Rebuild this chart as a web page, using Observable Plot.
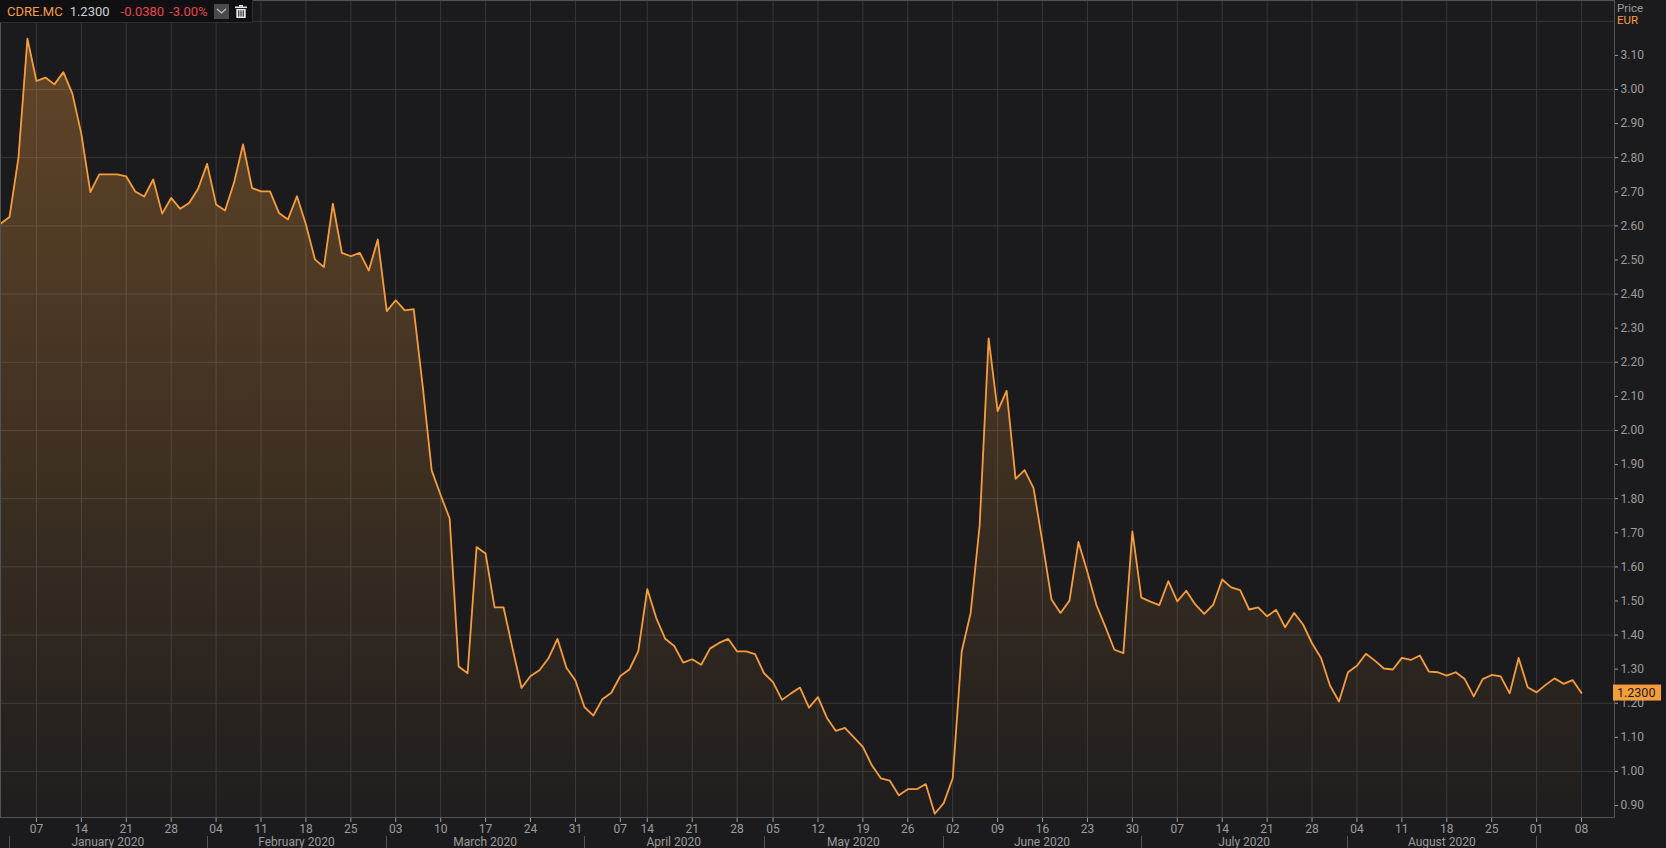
<!DOCTYPE html>
<html>
<head>
<meta charset="utf-8">
<script src="https://cdn.jsdelivr.net/npm/d3@7"></script>
<script src="https://cdn.jsdelivr.net/npm/@observablehq/plot@0.6"></script>
<style>
  html, body { margin: 0; padding: 0; background: #1b1b1d; overflow: hidden; }
  #wrap { position: relative; width: 1666px; height: 848px; }
  #chart svg { display: block; }
  #legend {
    position: absolute; left: 0; top: 0; width: 252px; height: 22px;
    background: #101012; border-right: 1px solid #2f2f31; border-bottom: 1px solid #2f2f31;
    font: 13px Roboto, "Open Sans", sans-serif; display: flex; align-items: center; white-space: pre;
  }
  #legend .btn { width: 15px; height: 15px; background: #4a4a4c; margin-left: 6px; display: flex; align-items: center; justify-content: center; }
  #legend .trash { margin-left: 6px; display: flex; align-items: center; }
</style>
</head>
<body>
<div id="wrap">
  <div id="chart"></div>
  <div id="legend"></div>
</div>
<script>
// ---------------- data ----------------
const symbol = "CDRE.MC";
const currency = "EUR";
const lastCloseLabel = "1.2300";
const changeLabel = "-0.0380";
const changePctLabel = "-3.00%";

// trading calendar (Madrid exchange)
const firstDay = "2019-12-31";
const lastDay = "2020-09-08";
const holidays = ["2020-01-01", "2020-04-10", "2020-04-13", "2020-05-01"];

// daily closes, one per trading day
const closes = [
  2.606, 2.626, 2.800, 3.149, 3.025, 3.035, 3.015, 3.051, 2.988, 2.870,
  2.699, 2.751, 2.751, 2.751, 2.745, 2.701, 2.686, 2.736, 2.636, 2.682,
  2.650, 2.667, 2.709, 2.782, 2.663, 2.645, 2.727, 2.839, 2.711, 2.701,
  2.701, 2.638, 2.619, 2.687, 2.604, 2.502, 2.479, 2.665, 2.521, 2.511,
  2.521, 2.469, 2.560, 2.350, 2.382, 2.352, 2.356, 2.130, 1.883, 1.810,
  1.742, 1.308, 1.288, 1.658, 1.639, 1.481, 1.481, 1.361, 1.245, 1.280,
  1.297, 1.332, 1.389, 1.304, 1.267, 1.189, 1.164, 1.212, 1.231, 1.280,
  1.299, 1.353, 1.535, 1.450, 1.389, 1.368, 1.319, 1.329, 1.313, 1.361,
  1.377, 1.389, 1.352, 1.352, 1.344, 1.288, 1.262, 1.210, 1.229, 1.246,
  1.187, 1.218, 1.157, 1.119, 1.128, 1.100, 1.072, 1.018, 0.980, 0.973,
  0.930, 0.948, 0.948, 0.963, 0.876, 0.907, 0.980, 1.352, 1.465, 1.722,
  2.270, 2.057, 2.116, 1.858, 1.884, 1.831, 1.671, 1.504, 1.465, 1.501,
  1.673, 1.584, 1.488, 1.424, 1.357, 1.347, 1.704, 1.510, 1.498, 1.488,
  1.558, 1.499, 1.530, 1.490, 1.462, 1.489, 1.563, 1.540, 1.532, 1.475,
  1.481, 1.455, 1.474, 1.423, 1.465, 1.431, 1.376, 1.333, 1.252, 1.205,
  1.291, 1.310, 1.345, 1.325, 1.302, 1.299, 1.333, 1.327, 1.340, 1.293,
  1.291, 1.281, 1.291, 1.271, 1.220, 1.271, 1.283, 1.279, 1.229, 1.333,
  1.247, 1.232, 1.254, 1.273, 1.257, 1.268, 1.230
];

// axis ticks
const xTickDates = [
  "2020-01-07","2020-01-14","2020-01-21","2020-01-28",
  "2020-02-04","2020-02-11","2020-02-18","2020-02-25",
  "2020-03-03","2020-03-10","2020-03-17","2020-03-24","2020-03-31",
  "2020-04-07","2020-04-14","2020-04-21","2020-04-28",
  "2020-05-05","2020-05-12","2020-05-19","2020-05-26",
  "2020-06-02","2020-06-09","2020-06-16","2020-06-23","2020-06-30",
  "2020-07-07","2020-07-14","2020-07-21","2020-07-28",
  "2020-08-04","2020-08-11","2020-08-18","2020-08-25",
  "2020-09-01","2020-09-08"
];
const monthStarts = ["2020-01","2020-02","2020-03","2020-04","2020-05","2020-06","2020-07","2020-08","2020-09"];
const monthLabels = ["January 2020","February 2020","March 2020","April 2020","May 2020","June 2020","July 2020","August 2020"];
const yTicks = [0.9,1.0,1.1,1.2,1.3,1.4,1.5,1.6,1.7,1.8,1.9,2.0,2.1,2.2,2.3,2.4,2.5,2.6,2.7,2.8,2.9,3.0,3.1];
const yGrid = [1.0,1.2,1.4,1.6,1.8,2.0,2.2,2.4,2.6,2.8,3.0,3.2];
const yDomain = [0.865, 3.261];
const xDomainEnd = 179.67; // trading-day index at right edge of plot

// ---------------- calendar ----------------
const tradingDays = [];
for (let d = new Date(firstDay + "T00:00:00Z"); d <= new Date(lastDay + "T00:00:00Z"); d = new Date(d.getTime() + 86400000)) {
  const iso = d.toISOString().slice(0, 10);
  const wd = d.getUTCDay();
  if (wd === 0 || wd === 6 || holidays.includes(iso)) continue;
  tradingDays.push(iso);
}
const xTickIdx = xTickDates.map(s => tradingDays.indexOf(s));
const tickLabelOf = new Map(xTickIdx.map((i, k) => [i, xTickDates[k].slice(8, 10)]));
const monthStartIdx = monthStarts.map(m => tradingDays.findIndex(s => s.startsWith(m)));

const orange = "#f59d3d";
const W = 1666, H = 848, mR = 52, mB = 31;

const chart = Plot.plot({
  width: W, height: H,
  marginLeft: 0, marginRight: mR, marginTop: 0, marginBottom: mB,
  style: { background: "#1b1b1d", color: "#9c9c9e", fontFamily: "Roboto, sans-serif", fontSize: "12px" },
  x: { domain: [0, xDomainEnd], ticks: xTickIdx, tickFormat: i => tickLabelOf.get(i), tickSize: 5, tickPadding: 2, label: null },
  y: { domain: yDomain, axis: "right", ticks: yTicks, tickFormat: d3.format(".2f"), tickSize: 3, tickPadding: 3, label: null },
  marks: [
    Plot.ruleY(yGrid, { stroke: "#38383b", strokeWidth: 1 }),
    Plot.ruleX(xTickIdx, { stroke: "#38383b", strokeWidth: 1 }),
    Plot.areaY(closes, { x: (d, i) => i, y1: yDomain[0], y2: d => d, fill: orange, fillOpacity: 0.2 }),
    Plot.lineY(closes, { x: (d, i) => i, y: d => d, stroke: orange, strokeWidth: 1.8 }),
    Plot.frame({ stroke: "#535355" })
  ]
});
document.getElementById("chart").appendChild(chart);

// ---------------- extras drawn with the plot's scales ----------------
const svg = d3.select(chart);
const xs = chart.scale("x"), ys = chart.scale("y");
const plotRight = W - mR;

const grad = svg.insert("defs", ":first-child").append("linearGradient")
  .attr("id", "areaGrad").attr("gradientUnits", "userSpaceOnUse")
  .attr("x1", 0).attr("x2", 0).attr("y1", ys.apply(yDomain[1])).attr("y2", ys.apply(yDomain[0]));
grad.append("stop").attr("offset", 0).attr("stop-color", orange).attr("stop-opacity", 0.34);
grad.append("stop").attr("offset", 1).attr("stop-color", orange).attr("stop-opacity", 0.02);
svg.selectAll('g[aria-label="area"] path').attr("fill", "url(#areaGrad)").attr("fill-opacity", 1);

// month separators and labels
const g = svg.append("g").attr("font-family", "Roboto, sans-serif").attr("font-size", 12).attr("text-anchor", "start");
monthStartIdx.forEach(i => {
  if (i < 0) return;
  const x = Math.round(xs.apply(i)) + 0.5;
  g.append("line").attr("x1", x).attr("x2", x).attr("y1", H - 12).attr("y2", H).attr("stroke", "#535355");
});
monthLabels.forEach((lab, k) => {
  const a = monthStartIdx[k], b = monthStartIdx[k + 1];
  g.append("text").attr("x", (xs.apply(a) + xs.apply(b)) / 2).attr("y", H - 2)
    .attr("text-anchor", "middle").attr("fill", "#9c9c9e").text(lab);
});

// Price / currency header
g.append("text").attr("x", plotRight + 3).attr("y", 12).attr("fill", "#9c9c9e").attr("font-size", 11.5).text("Price");
g.append("text").attr("x", plotRight + 3).attr("y", 24).attr("fill", orange).attr("font-size", 11.5).text(currency);

// last price tag
const yLast = ys.apply(closes[closes.length - 1]);
g.append("rect").attr("x", plotRight - 1).attr("y", yLast - 8).attr("width", 48).attr("height", 16).attr("fill", orange);
g.append("text").attr("x", plotRight + 3).attr("y", yLast + 4.5).attr("fill", "#1b1b1d").attr("font-size", 12.5).text(lastCloseLabel);

// ---------------- legend box ----------------
const legend = document.getElementById("legend");
legend.innerHTML =
  `<span style="color:${orange};margin-left:7px">${symbol}</span>` +
  `<span style="color:#d0d0d2;margin-left:7px">${lastCloseLabel}</span>` +
  `<span style="color:#e8474f;margin-left:11px">${changeLabel}</span>` +
  `<span style="color:#e8474f;margin-left:5px">${changePctLabel}</span>` +
  `<div class="btn"><svg width="11" height="8" viewBox="0 0 11 8"><path d="M1 2 L5.5 6 L10 2" fill="none" stroke="#bdbdbd" stroke-width="1.3"/></svg></div>` +
  `<div class="trash"><svg width="12" height="13" viewBox="0 0 12 13"><rect x="0" y="1.5" width="12" height="1.6" fill="#e6e6e6"/><rect x="4" y="0" width="4" height="1.6" fill="#e6e6e6"/><path d="M1.3 4 H10.7 V13 H1.3 Z" fill="#e6e6e6"/><rect x="3.3" y="5.3" width="1" height="6.3" fill="#101012"/><rect x="5.5" y="5.3" width="1" height="6.3" fill="#101012"/><rect x="7.7" y="5.3" width="1" height="6.3" fill="#101012"/></svg></div>`;
</script>
</body>
</html>
